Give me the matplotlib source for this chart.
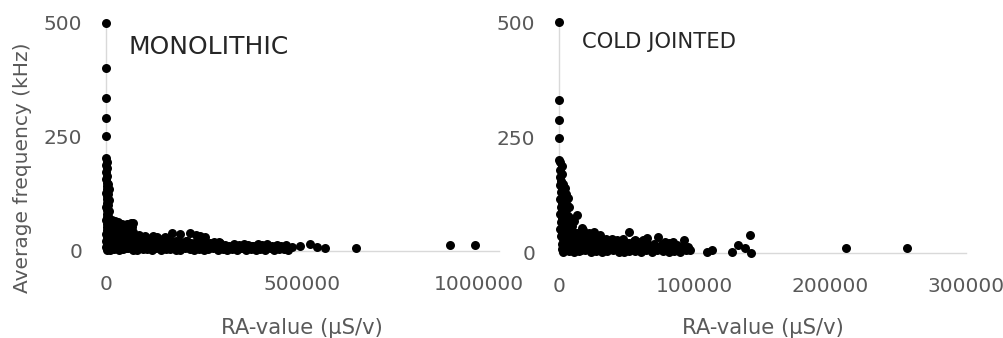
import matplotlib.pyplot as plt
import matplotlib.transforms as mtransforms

# MONOLITHIC: RA-value (uS/V) vs average frequency (kHz)
mono_ra = [
    0, 0, 0, 0, 0,
    # column at the origin
    600, 1800, 900, 2400, 1200, 3000, 700, 2100, 1500, 2800, 900, 2500,
    1300, 3100, 800, 2200, 1600, 2900, 1000, 2600, 1400, 3200, 700, 2300,
    1100, 2700, 800, 2000,
    5500, 7000, 5000, 6800, 5200, 7200, 5600, 6500, 5100, 7400, 5800, 6900, 5300,
    # body up to ~70 kHz
    23000, 53000, 69000, 15000, 40000, 64000, 31000,
    12000, 24000, 36000, 48000, 60000,
    10000, 22000, 34000, 46000, 58000, 68000,
    14000, 26000, 38000, 50000, 62000, 18000, 30000, 42000, 55000, 66000,
    75000, 90000, 105000, 130000, 150000,
    # bumps around 35-45 kHz
    85000, 100000, 120000, 145000, 168000, 188000, 214000, 239000, 228000, 252000,
    11000, 23000, 35000, 47000, 59000, 71000, 83000, 95000, 107000, 119000,
    131000, 143000, 155000, 178000, 205000,
    # band y~20
    5000, 16000, 28000, 39000, 51000, 62000, 74000, 86000, 97000, 109000,
    121000, 133000, 144000, 156000, 168000, 180000, 192000, 204000, 216000, 228000,
    240000, 252000, 264000, 276000, 288000,
    # band y~14
    6000, 17000, 29000, 40000, 52000, 63000, 75000, 87000, 98000, 110000,
    122000, 134000, 146000, 158000, 170000, 182000, 194000, 206000, 218000, 230000,
    242000, 254000, 266000, 278000, 290000, 302000, 314000, 326000, 338000, 350000,
    362000, 374000, 386000, 398000, 410000, 422000, 434000, 446000, 458000,
    # band y~9
    3000, 15000, 27000, 38000, 50000, 62000, 73000, 86000, 97000, 109000,
    121000, 133000, 145000, 157000, 169000, 181000, 192000, 204000, 216000, 228000,
    240000, 252000, 264000, 276000, 288000, 300000, 312000, 324000, 336000, 348000,
    360000, 372000, 384000, 396000, 408000, 420000, 432000, 444000, 456000,
    # band y~4
    9000, 21000, 33000, 44000, 57000, 69000, 80000, 93000, 104000, 117000,
    128000, 141000, 152000, 164000, 177000, 188000, 200000, 213000, 224000, 236000,
    249000, 260000, 272000, 284000, 297000, 308000, 320000, 333000, 344000, 356000,
    368000, 381000, 392000, 404000, 417000, 428000, 440000, 452000, 463000,
    # tail
    472000, 494000, 519000, 537000, 557000, 636000, 875000, 939000,
]
mono_freq = [
    500, 402, 336, 291, 253,
    204, 196, 188, 181, 173, 165, 158, 150, 143, 135, 128, 120,
    113, 105, 97, 90, 82, 75, 67, 60, 52, 45, 37, 30,
    22, 15, 8, 2,
    148, 136, 124, 112, 100, 88, 76, 64, 52, 40, 28, 16, 4,
    66, 59, 61, 68, 60, 62, 64,
    50, 52, 49, 51, 48,
    38, 40, 36, 39, 37, 41,
    44, 46, 43, 45, 42, 56, 57, 54, 55, 53,
    30, 30, 29, 31, 30,
    34, 32, 33, 26, 40, 37, 40, 33, 36, 31,
    27, 25, 28, 24, 26, 29, 23, 27, 25, 22,
    26, 24, 27, 23, 22,
    20, 21, 19, 22, 20, 18, 21, 19, 20, 22,
    19, 21, 20, 18, 22, 19, 20, 21, 18, 20,
    19, 21, 18, 20, 19,
    14, 16, 13, 15, 17, 12, 14, 16, 13, 15,
    14, 17, 12, 15, 16, 13, 14, 17, 15, 12,
    16, 14, 13, 15, 17, 14, 12, 16, 13, 15,
    14, 12, 16, 13, 15, 12, 14, 11, 13,
    9, 8, 10, 9, 7, 11, 8, 10, 9, 8,
    10, 9, 7, 11, 8, 9, 10, 8, 9, 11,
    7, 9, 10, 8, 9, 11, 8, 10, 9, 7,
    9, 10, 8, 11, 9, 8, 10, 9, 8,
    3, 5, 2, 4, 6, 3, 2, 5, 4, 3,
    6, 2, 4, 5, 3, 2, 6, 4, 3, 5,
    2, 4, 6, 3, 5, 2, 4, 3, 6, 2,
    5, 3, 4, 2, 6, 3, 5, 4, 2,
    9, 11, 15, 9, 7, 7, 13, 13,
]

# COLD JOINTED
cold_ra = [
    0, 0, 0, 0, 0,
    # column at the origin
    500, 2000, 1000, 2500, 800, 1800, 600, 2200, 1200, 2700, 700, 1900,
    1100, 2400, 900, 2100, 1400, 2600, 800, 2000, 1300,
    4500, 5500, 4200, 6000, 4800, 5200, 4400, 6200, 5000,
    8000, 9000, 7500, 13000, 9600, 17000,
    3000, 3200, 2800, 3400, 3000, 2900, 6500, 7000, 6800, 7200,
    9500, 10500, 8000, 12000, 15000, 19000, 22000, 26000, 11000, 6000,
    # body
    5000, 9000, 13000, 17500, 22000, 26000,
    4000, 8500, 13000, 17000, 21500, 26000, 30000, 52000, 56000, 65000, 73000,
    3000, 6500, 10000, 13500, 17000, 20500, 24000, 27500, 31000, 35000,
    39000, 43000, 47000, 62000,
    5500, 10000, 14500, 19000, 23500, 28000, 32500, 37000, 41500, 46000, 50500,
    55000, 59500, 64000, 78000, 84000, 92000,
    # band y~20
    2500, 6000, 9500, 13000, 16500, 20000, 23500, 27000, 30500, 34000,
    37500, 41000, 44500, 48000, 51500, 55000, 58500, 62000, 66000, 70000,
    76000, 81000, 87000,
    # band y~14
    4500, 8500, 12500, 16500, 20500, 24500, 28500, 33000, 37000, 41000,
    45000, 49000, 53000, 57500, 61500, 65500, 70000, 74000, 78500, 82500,
    86500, 91000, 95000,
    # band y~9
    2000, 5500, 9000, 12500, 16000, 19500, 23000, 26500, 30000, 33500,
    37000, 40500, 44000, 47500, 51000, 54500, 58000, 61500, 65000, 68500,
    72000, 75500, 79000, 82500, 86000, 89500, 93000,
    # band y~4
    3000, 7000, 11000, 15000, 19000, 23500, 27500, 31500, 35500, 40000,
    44000, 48000, 52000, 56000, 60500, 64500, 68500, 72500, 77000, 81000,
    85000, 89500, 94000, 97000,
    # tail
    109000, 113000, 128000, 132000, 137000, 141000, 142000, 212000, 257000,
]
cold_freq = [
    500, 331, 288, 249, 201,
    196, 188, 180, 172, 164, 156, 148, 140, 132, 124, 116, 108,
    100, 92, 84, 76, 68, 60, 52, 44, 36,
    140, 128, 116, 104, 92, 80, 68, 56, 44,
    75, 62, 50, 82, 67, 54,
    150, 125, 100, 75, 55, 40, 120, 100, 80, 60,
    58, 45, 45, 40, 42, 38, 40, 38, 70, 35,
    48, 45, 43, 50, 44, 46,
    36, 38, 35, 37, 34, 36, 39, 45, 28, 32, 35,
    31, 30, 32, 29, 31, 30, 32, 31, 29, 30,
    31, 29, 30, 28,
    26, 24, 27, 25, 28, 23, 26, 24, 27, 25, 22,
    26, 23, 25, 24, 24, 28,
    20, 21, 19, 22, 20, 18, 21, 19, 20, 22,
    19, 21, 20, 18, 22, 19, 20, 21, 18, 20,
    19, 21, 18,
    14, 16, 13, 15, 12, 16, 14, 13, 15, 12,
    16, 14, 13, 15, 12, 14, 16, 13, 12, 15,
    14, 12, 13,
    9, 8, 10, 9, 7, 11, 8, 10, 9, 8,
    10, 9, 7, 11, 8, 9, 10, 8, 9, 11,
    7, 9, 10, 8, 9, 11, 8,
    3, 5, 2, 4, 6, 3, 5, 2, 4, 6,
    3, 2, 5, 4, 3, 6, 2, 13, 4, 3,
    5, 2, 6, 6,
    2, 6, 2, 17, 11, 39, 0, 11, 11,
]

axis_grey = '#d9d9d9'
text_grey = '#595959'

fig = plt.figure(figsize=(10.04, 3.38), dpi=100)
ax1 = fig.add_axes([0.1056, 0.2574, 0.3914, 0.6746])
ax2 = fig.add_axes([0.5568, 0.2515, 0.4049, 0.6834])

panels = [
    (ax1, mono_ra, mono_freq, 1000000, [0, 500000, 1000000], 'MONOLITHIC', 18, 0.057, 0.895),
    (ax2, cold_ra, cold_freq, 300000, [0, 100000, 200000, 300000], 'COLD JOINTED', 15.2, 0.057, 0.913),
]
for ax, xs, ys, xmax, xt, title, tsize, tx, ty in panels:
    ax.scatter(xs, ys, s=42, color='black', linewidths=0, clip_on=False, zorder=3)
    ax.set_xlim(0, xmax)
    ax.set_ylim(0, 500)
    ax.set_xticks(xt)
    ax.set_xticklabels([str(v) for v in xt])
    ax.set_yticks([0, 250, 500])
    for side in ['top', 'right']:
        ax.spines[side].set_visible(False)
    for side in ['left', 'bottom']:
        ax.spines[side].set_color(axis_grey)
        ax.spines[side].set_linewidth(1)
    ax.tick_params(axis='x', length=0, pad=17, labelsize=14.5, labelcolor=text_grey)
    ax.tick_params(axis='y', length=0, pad=17, labelsize=14.5, labelcolor=text_grey)
    ax.text(tx, ty, title, transform=ax.transAxes, fontsize=tsize, color='#262626',
            ha='left', va='center')

# the last label of the left panel sits shifted left, as in the source
last = ax1.get_xticklabels()[-1]
last.set_transform(last.get_transform() +
                   mtransforms.ScaledTranslation(-0.2, 0, fig.dpi_scale_trans))

fig.text(23 / 1004, 0.503, 'Average frequency (kHz)', rotation=90, ha='center',
         va='center', fontsize=14.5, color=text_grey)
fig.text(302 / 1004, 1 - 328 / 338, 'RA-value (\u00b5S/v)', ha='center', va='center',
         fontsize=15.2, color=text_grey)
fig.text(763 / 1004, 1 - 328 / 338, 'RA-value (\u00b5S/v)', ha='center', va='center',
         fontsize=15.2, color=text_grey)

fig.savefig('out.png', dpi=100)
